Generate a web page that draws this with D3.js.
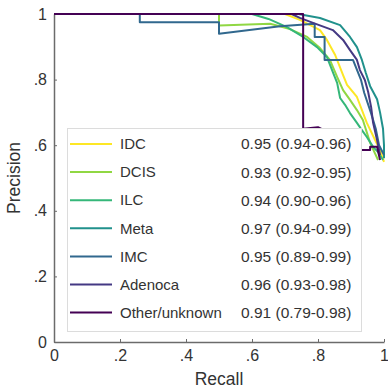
<!DOCTYPE html>
<html>
<head>
<meta charset="utf-8">
<script src="https://cdn.jsdelivr.net/npm/d3@7"></script>
<style>
  body { margin: 0; background: #fff; }
</style>
</head>
<body>
<div id="viz"></div>
<script>

const classes = ["IDC", "DCIS", "ILC", "Meta", "IMC", "Adenoca", "Other/unknown"]
const aucText = ["0.95 (0.94-0.96)", "0.93 (0.92-0.95)", "0.94 (0.90-0.96)", "0.97 (0.94-0.99)",
  "0.95 (0.89-0.99)", "0.96 (0.93-0.98)", "0.91 (0.79-0.98)"]

// recall / precision pairs
const recallIDC = [0, 0.70, 0.745, 0.806, 0.827, 0.852, 0.876, 0.888, 0.918, 0.948, 0.973, 0.988, 1.0]
const precisionIDC = [1, 1, 0.982, 0.951, 0.921, 0.875, 0.814, 0.784, 0.747, 0.668, 0.616, 0.585, 0.549]

const recallDCIS = [0, 0.5, 0.5, 0.655, 0.715, 0.767, 0.806, 0.836, 0.858, 0.876, 0.897, 0.918, 0.936, 0.958, 0.982]
const precisionDCIS = [1, 1, 0.965, 0.97, 0.954, 0.93, 0.896, 0.86, 0.808, 0.768, 0.738, 0.707, 0.677, 0.607, 0.555]

const recallILC = [0, 0.6, 0.65, 0.706, 0.755, 0.797, 0.827, 0.845, 0.858, 0.867, 0.882, 0.897, 0.918, 0.933, 0.948, 0.967, 0.982, 0.997]
const precisionILC = [1, 1, 0.985, 0.96, 0.93, 0.899, 0.869, 0.823, 0.79, 0.744, 0.723, 0.698, 0.668, 0.646, 0.625, 0.595, 0.579, 0.555]

const recallMeta = [0, 0.74, 0.806, 0.867, 0.897, 0.918, 0.933, 0.945, 0.958, 0.979, 0.988, 0.997, 1.0, 1.0]
const precisionMeta = [1, 1, 0.988, 0.966, 0.93, 0.899, 0.86, 0.82, 0.78, 0.74, 0.70, 0.65, 0.60, 0.56]

const recallIMC = [0, 0.26, 0.26, 0.5, 0.5, 0.685, 0.79, 0.79, 0.82, 0.82, 0.906, 0.93, 0.94, 0.96, 0.975, 0.985, 1.0]
const precisionIMC = [1, 1, 0.975, 0.975, 0.94, 0.963, 0.97, 0.93, 0.93, 0.86, 0.86, 0.80, 0.76, 0.70, 0.65, 0.60, 0.57]

const recallAdenoca = [0, 0.72, 0.745, 0.785, 0.845, 0.876, 0.897, 0.918, 0.927, 0.942, 0.952, 0.961, 0.967, 0.979, 0.988]
const precisionAdenoca = [1, 1, 0.988, 0.973, 0.951, 0.921, 0.89, 0.86, 0.829, 0.799, 0.762, 0.716, 0.668, 0.616, 0.57]

const recallOther = [0, 0.755, 0.755, 0.80, 0.87, 0.933, 0.958, 0.958, 0.979, 0.988]
const precisionOther = [1, 1, 0.65, 0.655, 0.62, 0.585, 0.585, 0.595, 0.595, 0.555]

const recalls = [recallIDC, recallDCIS, recallILC, recallMeta, recallIMC, recallAdenoca, recallOther]
const precisions = [precisionIDC, precisionDCIS, precisionILC, precisionMeta, precisionIMC, precisionAdenoca, precisionOther]

const tickValues = [0, 0.2, 0.4, 0.6, 0.8, 1]
const tickLabels = ["0", ".2", ".4", ".6", ".8", "1"]

document.addEventListener("DOMContentLoaded", () => {

  const width = 388
  const height = 391
  const margin = {top: 14, right: 4, bottom: 49, left: 54}
  const font = "'Liberation Sans', Arial, sans-serif"

  const svg = d3.select("#viz").append("svg")
  .attr("width", width)
  .attr("height", height)
  .style("background-color", "#ffffff")

  const x = d3.scaleLinear()
  .domain([0, 1])
  .range([margin.left, width - margin.right])

  const y = d3.scaleLinear()
  .domain([0, 1])
  .range([height - margin.bottom, margin.top])

  const color = d3.scaleOrdinal()
  .domain(classes)
  .range(classes.map((c, i) => d3.interpolateViridis(1 - i / (classes.length - 1))))

  // axes
  const xAxis = svg.append("g")
  .attr("transform", `translate(0,${y(0)})`)
  .call(d3.axisBottom(x).tickValues(tickValues).tickFormat((d, i) => tickLabels[i]).tickSizeInner(-3).tickSizeOuter(0).tickPadding(8))

  const yAxis = svg.append("g")
  .attr("transform", `translate(${x(0)},0)`)
  .call(d3.axisLeft(y).tickValues(tickValues).tickFormat((d, i) => tickLabels[i]).tickSizeInner(-3).tickSizeOuter(0).tickPadding(7))

  svg.selectAll(".domain").attr("stroke", "#6b6b6b").attr("stroke-width", 1.5)
  svg.selectAll(".tick line").attr("stroke", "#6b6b6b")
  svg.selectAll(".tick text")
  .attr("font-family", font)
  .attr("font-size", 16)
  .attr("fill", "#333")

  // curves
  const line = d3.line()
  .x(d => x(d[0]))
  .y(d => y(d[1]))

  svg.append("g")
  .selectAll("path")
  .data(classes)
  .enter()
  .append("path")
  .attr("d", (c, i) => line(recalls[i].map((r, j) => [r, precisions[i][j]])))
  .attr("fill", "none")
  .attr("stroke", c => color(c))
  .attr("stroke-width", 2)
  .attr("stroke-linejoin", "round")

  // legend
  const legend = svg.append("g")

  legend.append("rect")
  .attr("x", 67.5)
  .attr("y", 128.5)
  .attr("width", 294)
  .attr("height", 203)
  .attr("fill", "#ffffff")
  .attr("stroke", "#dcdcdc")

  const rows = legend.selectAll("g.row")
  .data(classes)
  .enter()
  .append("g")
  .attr("class", "row")
  .attr("transform", (c, i) => `translate(0,${144 + i * 28.1})`)

  rows.append("line")
  .attr("x1", 70)
  .attr("x2", 112)
  .attr("stroke", c => color(c))
  .attr("stroke-width", 2)

  rows.append("text")
  .attr("x", 120)
  .attr("dy", "0.35em")
  .attr("font-family", font)
  .attr("font-size", 15)
  .attr("fill", "#333")
  .text(c => c)

  rows.append("text")
  .attr("x", 241)
  .attr("dy", "0.35em")
  .attr("font-family", font)
  .attr("font-size", 15.5)
  .attr("fill", "#333")
  .text((c, i) => aucText[i])

  // axis titles
  svg.append("text")
  .attr("x", x(0.5))
  .attr("y", 385)
  .attr("text-anchor", "middle")
  .attr("font-family", font)
  .attr("font-size", 17.5)
  .attr("fill", "#333")
  .text("Recall")

  svg.append("text")
  .attr("transform", `translate(20,${y(0.5)}) rotate(-90)`)
  .attr("text-anchor", "middle")
  .attr("font-family", font)
  .attr("font-size", 17.5)
  .attr("fill", "#333")
  .text("Precision")

})
</script>
</body>
</html>
